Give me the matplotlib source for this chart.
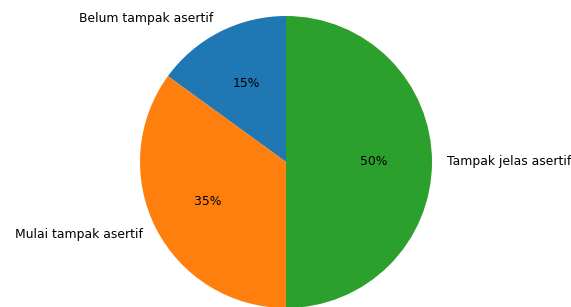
import matplotlib
matplotlib.use("Agg")
import matplotlib.pyplot as plt

labels = ['Belum tampak asertif', 'Mulai tampak asertif', 'Tampak jelas asertif']
sizes = [15, 35, 50]
colors = ['#1f77b4', '#ff7f0e', '#2ca02c']

fig = plt.figure(figsize=(5.71, 3.07), dpi=100)
# axes placed so the circle sits where it does in the picture
r = 146
cx, cy = 286, 162
ax = fig.add_axes([(cx - r) / 571, (307 - cy - r) / 307, 2 * r / 571, 2 * r / 307])
ax.pie(sizes, labels=labels, colors=colors, autopct='%1.0f%%', startangle=90,
       textprops={'fontsize': 8.9})
ax.set_xlim(-1, 1)
ax.set_ylim(-1, 1)
ax.axis('off')

fig.savefig('out.png', dpi=100)
